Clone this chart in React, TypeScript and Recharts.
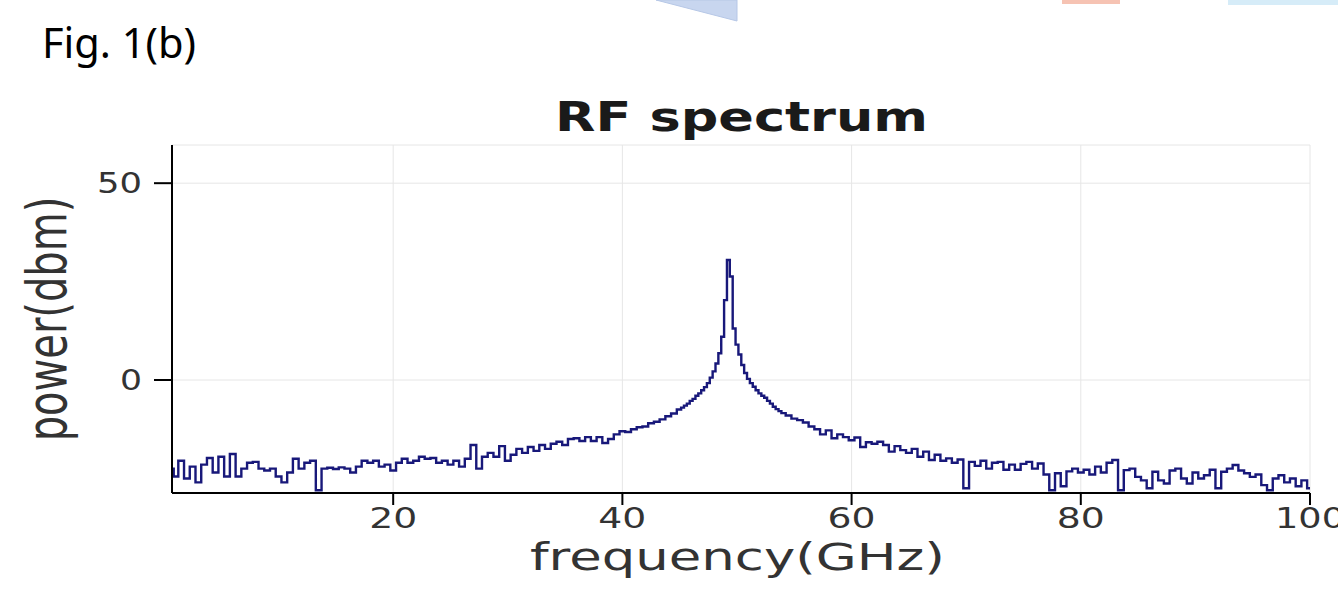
import React from 'react';
import { LineChart, Line, XAxis, YAxis, CartesianGrid } from 'recharts';

// frequency bins (GHz)
const freqGHz = [
  0.7, 1.0, 1.5, 2.0, 2.5, 3.0, 3.5, 4.0, 4.5, 5.0,
  5.5, 6.0, 6.5, 7.0, 7.5, 8.0, 8.5, 9.0, 9.5, 10.0,
  10.5, 11.0, 11.5, 12.0, 12.5, 13.0, 13.5, 14.0, 14.5, 15.0,
  15.5, 16.0, 16.5, 17.0, 17.5, 18.0, 18.5, 19.0, 19.5, 20.0,
  20.5, 21.0, 21.5, 22.0, 22.5, 23.0, 23.5, 24.0, 24.5, 25.0,
  25.5, 26.0, 26.5, 27.0, 27.5, 28.0, 28.5, 29.0, 29.5, 30.0,
  30.5, 31.0, 31.5, 32.0, 32.5, 33.0, 33.5, 34.0, 34.5, 35.0,
  35.5, 36.0, 36.5, 37.0, 37.5, 38.0, 38.5, 39.0, 39.5, 40.0,
  40.5, 41.0, 41.5, 42.0, 42.5, 43.0, 43.5, 44.0, 44.5, 45.0,
  45.25, 45.5, 45.75, 46.0, 46.25, 46.5, 46.75, 47.0, 47.25, 47.5,
  47.75, 48.0, 48.25, 48.5, 48.75, 49.0, 49.25, 49.5, 49.75, 50.0,
  50.25, 50.5, 50.75, 51.0, 51.25, 51.5, 51.75, 52.0, 52.25, 52.5,
  52.75, 53.0, 53.25, 53.5, 53.75, 54.0,
  54.5, 55.0, 55.5, 56.0, 56.5, 57.0, 57.5, 58.0, 58.5, 59.0,
  59.5, 60.0, 60.5, 61.0, 61.5, 62.0, 62.5, 63.0, 63.5, 64.0,
  64.5, 65.0, 65.5, 66.0, 66.5, 67.0, 67.5, 68.0, 68.5, 69.0,
  69.5, 70.0, 70.5, 71.0, 71.5, 72.0, 72.5, 73.0, 73.5, 74.0,
  74.5, 75.0, 75.5, 76.0, 76.5, 77.0, 77.5, 78.0, 78.5, 79.0,
  79.5, 80.0, 80.5, 81.0, 81.5, 82.0, 82.5, 83.0, 83.5, 84.0,
  84.5, 85.0, 85.5, 86.0, 86.5, 87.0, 87.5, 88.0, 88.5, 89.0,
  89.5, 90.0, 90.5, 91.0, 91.5, 92.0, 92.5, 93.0, 93.5, 94.0,
  94.5, 95.0, 95.5, 96.0, 96.5, 97.0, 97.5, 98.0, 98.5, 99.0,
  99.5, 100.0,
];

// measured power (dBm)
const powerDbm = [
  -22.5, -24.5, -20.5, -25, -22, -26, -21.5, -19.8, -23.5, -19.5,
  -24.5, -18.8, -24.5, -22.5, -21, -20.8, -22.5, -23, -22.5, -24.5,
  -26, -23.5, -20, -22.5, -21, -20.5, -28, -22.5, -22.3, -22.6,
  -22.2, -22.5, -23.5, -22, -20.5, -21, -20.5, -22, -21.5, -23,
  -21, -20, -21, -20.5, -19.5, -20, -19.8, -21, -20.5, -21.5,
  -20.5, -22, -20, -16.5, -22.5, -19.5, -18.5, -19.5, -16.8, -20.5,
  -19, -17.5, -18.5, -17, -18, -16.5, -17.5, -16.2, -15.7, -16.5,
  -15, -14.8, -15.5, -14.5, -15.5, -14.5, -16, -15, -13.8, -13,
  -13.2, -12.5, -12, -11.8, -11, -10.6, -10, -9.2, -8.5, -7.5,
  -7, -6.5, -6, -5.3, -4.8, -4, -3.4, -2.6, -1.8, -0.8,
  0.6, 2.2, 4.2, 6.8, 11, 20.3, 30.5, 26.3, 13.1, 9,
  6.5, 3.8, 1.8, 0.3, -0.8, -1.7, -2.6, -3.4, -4, -4.5,
  -5.3, -6, -6.8, -7.4, -7.9, -8.4,
  -9, -9.8, -10.2, -10.8, -11.8, -12.5, -13.8, -12.8, -14.8, -13.8,
  -14.5, -15.3, -14.6, -17, -15.8, -16.2, -15.7, -16.5, -18.2, -16.8,
  -17.8, -18.5, -17.5, -19.5, -18.2, -20.3, -19, -20.5, -19.9, -21,
  -20.2, -27.5, -20.8, -21.8, -20.5, -22.5, -21, -20.8, -22.8, -21.5,
  -22.8, -21.3, -20.8, -22.5, -21.2, -24, -28, -23.7, -27, -23.2,
  -22.5, -23.5, -22.8, -24, -22, -23.5, -21, -20.3, -28, -22.9,
  -22.5, -24.6, -25.5, -27.5, -23.3, -25.5, -26.3, -23, -22.5, -25,
  -26.3, -23.5, -25, -24.2, -22.8, -27.5, -23.3, -22.5, -21.6, -23,
  -23.7, -24.6, -24, -26.7, -28, -25, -24.2, -26, -25, -27,
  -25.5, -27.5,
];

const xTicks = [20, 40, 60, 80, 100];
const yTicks = [0, 50];
const xDomain = [0.7, 100];
const yDomain = [-28.7, 59.7];

const figLabel = 'Fig. 1(b)';
const chartTitle = 'RF spectrum';
const xLabel = 'frequency(GHz)';
const yLabel = 'power(dbm)';

const data = freqGHz.map((f, i) => ({ f, p: powerDbm[i] }));

const W = 1338;
const H = 589;
const FONT = 'DejaVu Sans, Verdana, sans-serif';

const YTick = (props: any) => {
  const { x, y, payload } = props;
  const s = String(payload.value);
  const len = s.length === 1 ? 22 : 45;
  return (
    <text x={x} y={y + 10} textAnchor="end" fontFamily={FONT} fontSize={29} fill="#333"
      textLength={len} lengthAdjust="spacingAndGlyphs">{s}</text>
  );
};

const XTick = (props: any) => {
  const { x, y, payload } = props;
  const s = String(payload.value);
  const len = s.length === 3 ? 70 : 48;
  return (
    <text x={x} y={y + 21} textAnchor="middle" fontFamily={FONT} fontSize={28} fill="#333"
      textLength={len} lengthAdjust="spacingAndGlyphs">{s}</text>
  );
};

export default function App() {
  return (
    <div style={{ position: 'absolute', left: 0, top: 0, width: W, height: H, background: '#fff', overflow: 'hidden' }}>
      <svg width={W} height={H} style={{ position: 'absolute', left: 0, top: 0 }}>
        <polygon points="656,0 737,0 737,21" fill="#c8d6ef" stroke="#b6c7e6" strokeWidth={1} />
        <rect x={1062} y={0} width={58} height={4} fill="#f6c3b3" />
        <rect x={1228} y={0} width={110} height={5} fill="#d6ecf8" />
      </svg>
      <div style={{ position: 'absolute', left: 0, top: 0 }}>
        <LineChart width={W} height={H} data={data} margin={{ top: 145, right: 28, left: 0, bottom: 0 }}>
          <CartesianGrid stroke="#e6e6e6" strokeWidth={1} />
          <XAxis
            type="number"
            dataKey="f"
            domain={xDomain}
            ticks={xTicks}
            allowDataOverflow
            height={96}
            tickSize={12}
            tickMargin={2}
            axisLine={{ stroke: '#000', strokeWidth: 2 }}
            tickLine={{ stroke: '#000', strokeWidth: 2 }}
            tick={<XTick />}
          />
          <YAxis
            type="number"
            domain={yDomain}
            ticks={yTicks}
            allowDataOverflow
            width={172}
            tickSize={18}
            tickMargin={12}
            axisLine={{ stroke: '#000', strokeWidth: 2 }}
            tickLine={{ stroke: '#000', strokeWidth: 2 }}
            tick={<YTick />}
          />
          <Line
            type="step"
            dataKey="p"
            stroke="#18187a"
            strokeWidth={2.4}
            dot={false}
            activeDot={false}
            isAnimationActive={false}
          />
        </LineChart>
      </div>
      <svg width={W} height={H} style={{ position: 'absolute', left: 0, top: 0, pointerEvents: 'none' }}>
        <text x={42} y={58} fontFamily="Noto Sans, Open Sans, sans-serif" fontSize={42} fill="#000"
          textLength={154} lengthAdjust="spacingAndGlyphs">{figLabel}</text>
        <text x={741.5} y={131} textAnchor="middle" fontFamily={FONT} fontWeight="bold" fontSize={41} fill="#1a1a1a"
          textLength={373} lengthAdjust="spacingAndGlyphs">{chartTitle}</text>
        <text x={737.5} y={570} textAnchor="middle" fontFamily={FONT} fontSize={37} fill="#333"
          textLength={415} lengthAdjust="spacingAndGlyphs">{xLabel}</text>
        <text transform="translate(66,319) scale(1.36,1) rotate(-90)" textAnchor="middle" fontFamily={FONT}
          fontSize={40} fill="#333">{yLabel}</text>
      </svg>
    </div>
  );
}
